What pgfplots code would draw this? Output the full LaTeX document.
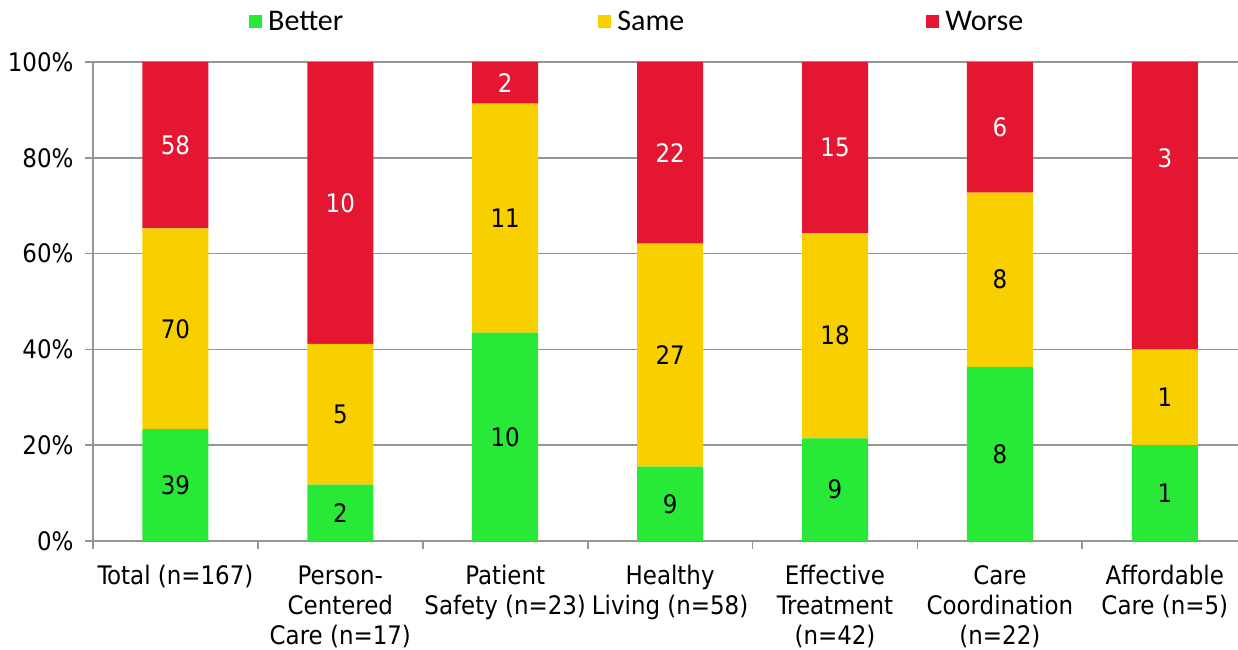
\documentclass[border=0pt]{standalone}
\usepackage{fontspec}
\setmainfont{DejaVu Sans Condensed}
\newfontfamily\legfont{Carlito}
\usepackage{pgfplots}
\pgfplotsset{compat=1.18}
\usepackage{pgfplotstable}
\definecolor{cgreen}{RGB}{40,232,56}
\definecolor{cyellow}{RGB}{248,208,0}
\definecolor{cred}{RGB}{228,22,50}
\definecolor{cgrid}{RGB}{150,150,150}

% percentages of each category (Better, Same, Worse)
\pgfplotstableread{
x better same worse
0 23.35 41.92 34.73
1 11.76 29.41 58.82
2 43.48 47.83 8.70
3 15.52 46.55 37.93
4 21.43 42.86 35.71
5 36.36 36.36 27.27
6 20.00 20.00 60.00
}\pcts

% counts shown in the segments, at segment centres
\pgfplotstableread{
x y label
0 11.68 39
0 44.31 70
1 5.88 2
1 26.47 5
2 21.74 10
2 67.39 11
3 7.76 9
3 38.79 27
4 10.71 9
4 42.86 18
5 18.18 8
5 54.55 8
6 10.00 1
6 30.00 1
}\darklabels
\pgfplotstableread{
x y label
0 82.63 58
1 70.59 10
2 95.65 2
3 81.03 22
4 82.14 15
5 86.36 6
6 80.00 3
}\whitelabels

\begin{document}
\begin{tikzpicture}[font=\fontsize{25.5pt}{30pt}\selectfont]
\pgfplotsset{commonaxis/.style={scale only axis, width=1145pt, height=479pt,
  xmin=-0.5, xmax=6.444, ymin=0, ymax=100}}
\begin{axis}[commonaxis, name=ax,
  ybar stacked, bar width=66pt,
  axis lines*=left,
  axis line style={cgrid, line width=1.8pt},
  ytick={0,20,...,100},
  yticklabel={\pgfmathprintnumber{\tick}\%},
  /pgf/number format/assume math mode=true,
  ymajorgrids, grid style={cgrid, line width=1.8pt},
  tick align=outside, major tick length=8pt,
  ytick style={draw=cgrid, line width=1.8pt},
  yticklabel style={font=\fontsize{25.5pt}{30pt}\selectfont, xshift=-8pt},
  xtick={0,...,6},
  xtick style={draw=none},
  xticklabels={{Total (n=167)},{Person-\\Centered\\Care (n=17)},{Patient\\Safety (n=23)},{Healthy\\Living (n=58)},{Effective\\Treatment\\(n=42)},{Care\\Coordination\\(n=22)},{Affordable\\Care (n=5)}},
  xticklabel style={align=center, font=\fontsize{25.5pt}{30pt}\selectfont, yshift=-13pt},
  extra x ticks={-0.5,0.5,1.5,2.5,3.5,4.5,5.5},
  extra x tick labels={},
  extra x tick style={xtick style={draw=cgrid, line width=1.8pt}, xmajorgrids=false},
  legend columns=3,
  legend style={at={(0.1336,1.0835)}, anchor=west, draw=none, fill=none,
    font=\legfont\fontsize{30pt}{32pt}\selectfont,
    /tikz/column 2/.style={column sep=253pt},
    /tikz/column 4/.style={column sep=240pt}},
  legend image code/.code={\fill[#1] (0pt,-6.5pt) rectangle (13pt,6.5pt);},
]
\addplot[fill=cgreen, draw=none] table[x=x, y=better]{\pcts};
\addlegendentry{\hspace{4pt}Better}
\addplot[fill=cyellow, draw=none] table[x=x, y=same]{\pcts};
\addlegendentry{\hspace{4pt}Same}
\addplot[fill=cred, draw=none] table[x=x, y=worse]{\pcts};
\addlegendentry{\hspace{4pt}Worse}
\end{axis}
\begin{axis}[commonaxis, hide axis, at={(ax.south west)}, anchor=south west]
\addplot[only marks, mark=none, nodes near coords, point meta=explicit symbolic,
  nodes near coords style={anchor=center, text=black, font=\fontsize{25.5pt}{30pt}\selectfont}]
  table[x=x, y=y, meta=label]{\darklabels};
\addplot[only marks, mark=none, nodes near coords, point meta=explicit symbolic,
  nodes near coords style={anchor=center, text=white, font=\fontsize{25.5pt}{30pt}\selectfont}]
  table[x=x, y=y, meta=label]{\whitelabels};
\end{axis}
\pgfresetboundingbox
\path ([xshift=-93pt,yshift=-108pt]ax.south west) rectangle ([yshift=62pt]ax.north east);
\end{tikzpicture}
\end{document}
